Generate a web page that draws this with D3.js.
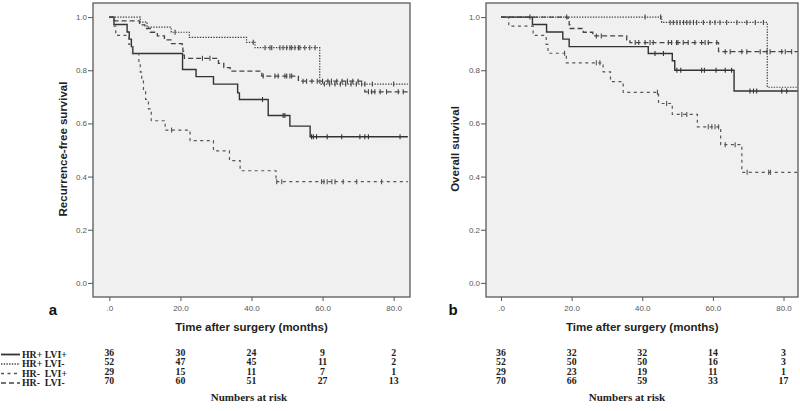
<!DOCTYPE html>
<html><head><meta charset="utf-8">
<script src="https://cdn.jsdelivr.net/npm/d3@7"></script>
<style>html,body{margin:0;padding:0;background:#fff;}svg{display:block;}</style>
</head><body>
<svg id="chart" width="800" height="411"></svg>
<script>
// ---------- DATA ----------
const groups = ["HR+ LVI+", "HR+ LVI-", "HR-  LVI+", "HR-  LVI-"];
const riskTimes = [0, 20, 40, 60, 80];
const xTickValues = [0, 20, 40, 60, 80];
const yTickValues = [0, 0.2, 0.4, 0.6, 0.8, 1.0];

// Panel a: recurrence-free survival, step points [time, survival]
const rfsHRpLVIp = [[0,1],[1.3,0.972],[5,0.944],[5.6,0.917],[6.2,0.889],[6.6,0.863],[20.6,0.803],[24.4,0.776],[29.3,0.748],[36.1,0.715],[36.6,0.69],[44.7,0.63],[50.8,0.59],[56.5,0.55],[84,0.55]];
const rfsHRpLVIm = [[0,1],[8.7,0.981],[10.6,0.962],[17.4,0.943],[22.5,0.924],[38.6,0.905],[41,0.885],[59.2,0.748],[84,0.748]];
const rfsHRmLVIp = [[0,1],[1.3,0.966],[1.8,0.931],[5.5,0.897],[6.5,0.862],[8.3,0.828],[8.7,0.793],[9.1,0.759],[9.6,0.724],[10.2,0.69],[11,0.655],[11.8,0.61],[15.7,0.575],[22.7,0.535],[29.3,0.497],[33.8,0.46],[36.8,0.422],[46.9,0.381],[84,0.381]];
const rfsHRmLVIm = [[0,1],[1.5,0.986],[8.5,0.971],[10,0.957],[11.5,0.943],[13.5,0.929],[15.5,0.914],[17.5,0.9],[20.5,0.886],[20.7,0.871],[20.9,0.857],[21.1,0.845],[30.7,0.826],[32.2,0.81],[34,0.797],[42.9,0.778],[53.2,0.759],[71.9,0.719],[84,0.719]];
// censor times
const rfsCensHRpLVIp = [43.1,48.9,49.4,56.9,57.4,58.3,61.3,65.4,70.5,71.9,72.9,81.8];
const rfsCensHRpLVIm = [18.5,40.5,43.8,45.2,45.7,48,48.9,49.9,50.8,51.3,52.2,53.2,53.6,55,56.4,57.9,60.5,62,63.5,65,66.5,68,69.5,71,74,80];
const rfsCensHRmLVIp = [17.5,47.1,48.5,59.7,60.4,61.3,62.6,63.5,65.8,69.6,76.6];
const rfsCensHRmLVIm = [26.2,28.3,43.3,46.6,47.5,49.4,49.9,50.8,51.3,54.5,55.5,57,58.5,60,61.5,62.5,64,65.5,67,68.5,70,72.9,73.8,74.7,76.2,78,81.3,82.7];

// Panel b: overall survival
const osHRpLVIp = [[0,1],[8.9,0.972],[12.9,0.944],[17.5,0.917],[19.3,0.889],[41.7,0.863],[48.5,0.836],[49.2,0.80],[66,0.722],[84,0.722]];
const osHRpLVIm = [[0,1],[45.5,0.98],[75.4,0.736],[84,0.736]];
const osHRmLVIp = [[0,1],[2.2,0.966],[9.1,0.931],[12.8,0.897],[13.3,0.864],[18.5,0.828],[28.9,0.794],[31,0.757],[34.6,0.717],[44.6,0.675],[48.5,0.634],[55.6,0.587],[62.2,0.52],[68.2,0.416],[84,0.416]];
const osHRmLVIm = [[0,1],[19,0.986],[19.3,0.971],[19.6,0.957],[23.3,0.943],[26,0.929],[35.6,0.914],[36.5,0.904],[61.6,0.87],[84,0.87]];
const osCensHRpLVIp = [43.6,46,49.8,50.9,56.8,57.6,60.9,63.5,65.3,70.5,71.5,72.4,79.5,80.9];
const osCensHRpLVIm = [8.2,18.6,40.8,45.2,47.9,48.8,49.8,50.7,51.7,52.6,53.5,54.5,55.4,57.3,59.2,60.6,62,63.9,66.8,69.6,72,74.3];
const osCensHRmLVIp = [18,27,28,44.3,46.9,51.2,52.6,58.7,59.7,60.6,61.6,63.5,66.3,69.7,75.8,76.3];
const osCensHRmLVIm = [27,28.4,38,39,40.8,42.2,43.1,47.4,48.3,49.7,50.1,51.6,53,54.9,56.8,57.8,58.7,61.1,63.5,64.9,68.2,69.6,73.4,75.3,76.2,79.5,80.5,82.3];

// numbers at risk
const rfsRiskHRpLVIp = [36,30,24,9,2];
const rfsRiskHRpLVIm = [52,47,45,11,2];
const rfsRiskHRmLVIp = [29,15,11,7,1];
const rfsRiskHRmLVIm = [70,60,51,27,13];
const osRiskHRpLVIp = [36,32,32,14,3];
const osRiskHRpLVIm = [52,50,50,16,3];
const osRiskHRmLVIp = [29,23,19,11,1];
const osRiskHRmLVIm = [70,66,59,33,17];

// ---------- STYLES ----------
const styles = [
  {dash: null,    color: "#333", width: 1.4},
  {dash: "1.4,1.3", color: "#444", width: 1.2},
  {dash: "3,3.5", color: "#555", width: 1.2},
  {dash: "5,3",   color: "#444", width: 1.3}
];

const svg = d3.select("#chart");
const sans = "'Liberation Sans', Arial, sans-serif";
const serif = "'Liberation Serif', 'Times New Roman', serif";

const panels = [
  {id:"a", left:93, right:410, xdom:[-4.6,84.6], ylabel:"Recurrence-free survival", ylabX:63, letterX:53,
   curves:[rfsHRpLVIp,rfsHRpLVIm,rfsHRmLVIp,rfsHRmLVIm],
   cens:[rfsCensHRpLVIp,rfsCensHRpLVIm,rfsCensHRmLVIp,rfsCensHRmLVIm],
   risk:[rfsRiskHRpLVIp,rfsRiskHRpLVIm,rfsRiskHRmLVIp,rfsRiskHRmLVIm], riskTitleX:249},
  {id:"b", left:486, right:798, xdom:[-4.25,84.1], ylabel:"Overall survival", ylabX:455, letterX:453,
   curves:[osHRpLVIp,osHRpLVIm,osHRmLVIp,osHRmLVIm],
   cens:[osCensHRpLVIp,osCensHRpLVIm,osCensHRmLVIp,osCensHRmLVIm],
   risk:[osRiskHRpLVIp,osRiskHRpLVIm,osRiskHRmLVIp,osRiskHRmLVIm], riskTitleX:627}
];

const plotTop = 3, plotBottom = 297;
const y = d3.scaleLinear().domain([-0.053, 1.053]).range([plotBottom, plotTop]);
const rowY = [352.5, 362, 371.5, 381];
const tableFont = 9.8;

function stepValue(curve, t){
  let v = curve[0][1];
  for (const p of curve){ if (p[0] <= t) v = p[1]; else break; }
  return v;
}

panels.forEach((p, pi) => {
  const x = d3.scaleLinear().domain(p.xdom).range([p.left, p.right]);
  const g = svg.append("g");
  g.append("rect").attr("x", p.left).attr("y", plotTop).attr("width", p.right - p.left).attr("height", plotBottom - plotTop)
    .attr("fill", "#f0f0f0").attr("stroke", "#5a5a5a").attr("stroke-width", 1.3);

  g.append("clipPath").attr("id", "clip" + pi).append("rect")
    .attr("x", p.left).attr("y", plotTop).attr("width", p.right - p.left).attr("height", plotBottom - plotTop);

  // axes
  const ya = g.append("g").attr("transform", `translate(${p.left},0)`)
    .call(d3.axisLeft(y).tickValues(yTickValues).tickFormat(d3.format(".1f")).tickSize(5).tickPadding(1));
  ya.select(".domain").remove();
  ya.selectAll("line").attr("stroke", "#555");
  ya.selectAll("text").attr("font-family", sans).attr("font-size", 8).attr("fill", "#555");

  const xa = g.append("g").attr("transform", `translate(0,${plotBottom})`)
    .call(d3.axisBottom(x).tickValues(xTickValues).tickFormat(d => d === 0 ? ".0" : d3.format(".1f")(d)).tickSize(4).tickPadding(4));
  xa.select(".domain").remove();
  xa.selectAll("line").attr("stroke", "#555");
  xa.selectAll("text").attr("font-family", sans).attr("font-size", 8).attr("fill", "#555");

  // curves
  const line = d3.line().x(d => x(d[0])).y(d => y(d[1])).curve(d3.curveStepAfter);
  const cg = g.append("g").attr("clip-path", `url(#clip${pi})`);
  p.curves.forEach((c, ci) => {
    const s = styles[ci];
    cg.append("path").datum(c).attr("d", line).attr("fill", "none")
      .attr("stroke", s.color).attr("stroke-width", s.width)
      .attr("stroke-dasharray", s.dash);
    cg.selectAll(null).data(p.cens[ci]).enter().append("line")
      .attr("x1", t => x(t)).attr("x2", t => x(t))
      .attr("y1", t => y(stepValue(c, t)) - 2.5).attr("y2", t => y(stepValue(c, t)) + 2.5)
      .attr("stroke", s.color).attr("stroke-width", 1.1);
  });

  // labels
  g.append("text").attr("transform", `translate(${p.ylabX},149) rotate(-90)`).attr("text-anchor", "middle")
    .attr("dy", "0.35em").attr("font-family", sans).attr("font-weight", "bold").attr("font-size", 11.5)
    .attr("fill", "#222").text(p.ylabel);
  g.append("text").attr("x", x(40)).attr("y", 331).attr("text-anchor", "middle")
    .attr("font-family", sans).attr("font-weight", "bold").attr("font-size", 11.5).attr("fill", "#222")
    .text("Time after surgery (months)");
  g.append("text").attr("x", p.letterX).attr("y", 315).attr("text-anchor", "middle")
    .attr("font-family", sans).attr("font-weight", "bold").attr("font-size", 15).attr("fill", "#111").text(p.id);

  // numbers at risk
  p.risk.forEach((r, ri) => {
    g.selectAll(null).data(r).enter().append("text")
      .attr("x", (d, i) => x(riskTimes[i])).attr("y", rowY[ri] + 3.3).attr("text-anchor", "middle")
      .attr("font-family", serif).attr("font-weight", "bold").attr("font-size", tableFont).attr("fill", "#222")
      .text(d => d);
  });
  g.append("text").attr("x", p.riskTitleX).attr("y", 400.5).attr("text-anchor", "middle")
    .attr("font-family", serif).attr("font-weight", "bold").attr("font-size", 11).attr("fill", "#222")
    .text("Numbers at risk");
});

// legend
groups.forEach((name, i) => {
  const cy = rowY[i] + 2;
  const s = styles[i];
  svg.append("line").attr("x1", 1).attr("x2", 20).attr("y1", cy).attr("y2", cy)
    .attr("stroke", s.color).attr("stroke-width", i === 0 ? 1.8 : 1.6).attr("stroke-dasharray", s.dash);
  svg.append("text").attr("x", 22).attr("y", cy + 3.3).attr("font-family", serif).attr("font-weight", "bold")
    .attr("font-size", tableFont).attr("fill", "#222").style("white-space", "pre").text(name);
});
</script>
</body></html>
